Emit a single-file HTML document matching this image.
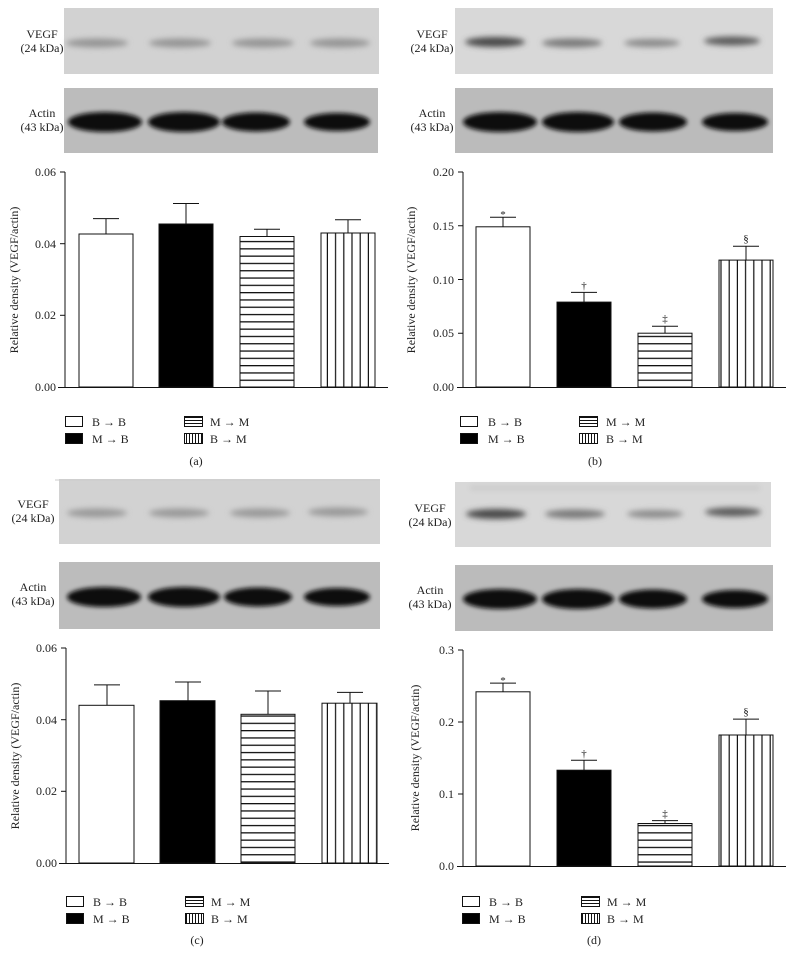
<!DOCTYPE html>
<html><head><meta charset="utf-8"><style>
html,body{margin:0;padding:0;background:#fff}
svg text{font-family:"Liberation Serif",serif;fill:#222}
</style></head><body>
<svg width="795" height="966" viewBox="0 0 795 966" xmlns="http://www.w3.org/2000/svg">
<defs>
<filter id="b1" x="-30%" y="-150%" width="160%" height="400%"><feGaussianBlur stdDeviation="3"/></filter>
<filter id="b2" x="-30%" y="-100%" width="160%" height="300%"><feGaussianBlur stdDeviation="2.2"/></filter>
<pattern id="hz" width="10" height="7.3" patternUnits="userSpaceOnUse"><rect width="10" height="7.3" fill="#fff"/><rect y="0" width="10" height="1.3" fill="#111"/></pattern>
<pattern id="vt" width="8.2" height="10" patternUnits="userSpaceOnUse"><rect width="8.2" height="10" fill="#fff"/><rect x="7" width="1.2" height="10" fill="#111"/></pattern>
<pattern id="hzs" width="10" height="3" patternUnits="userSpaceOnUse"><rect width="10" height="3" fill="#fff"/><rect width="10" height="1" fill="#111"/></pattern>
<pattern id="vts" width="3" height="10" patternUnits="userSpaceOnUse"><rect width="3" height="10" fill="#fff"/><rect width="1" height="10" fill="#111"/></pattern>
</defs>

<!-- ===== Panel A blots ===== -->
<rect x="64" y="8" width="315" height="66" fill="#d2d2d2"/>
<g filter="url(#b1)" fill="#959595">
<ellipse cx="97" cy="43" rx="31" ry="4.5"/><ellipse cx="180" cy="43" rx="31" ry="4.5"/><ellipse cx="263" cy="43" rx="31" ry="4.5"/><ellipse cx="340" cy="43" rx="30" ry="4.5"/>
</g>
<rect x="64" y="88" width="314" height="65" fill="#bcbcbc"/>
<g filter="url(#b2)" fill="#0a0a0a">
<ellipse cx="105" cy="122" rx="37" ry="10"/><ellipse cx="184" cy="122" rx="36" ry="10"/><ellipse cx="256" cy="122" rx="34" ry="9.5"/><ellipse cx="337" cy="122" rx="33" ry="9"/>
</g>
<text x="42" y="38" font-size="12" text-anchor="middle">VEGF</text>
<text x="42" y="52" font-size="12" text-anchor="middle">(24 kDa)</text>
<text x="42" y="117" font-size="12" text-anchor="middle">Actin</text>
<text x="42" y="131" font-size="12" text-anchor="middle">(43 kDa)</text>

<!-- ===== Panel B blots ===== -->
<rect x="455" y="8" width="318" height="66" fill="#d8d8d8"/>
<g filter="url(#b1)">
<ellipse cx="495" cy="42" rx="30" ry="5" fill="#4a4a4a"/><ellipse cx="572" cy="43" rx="30" ry="4.5" fill="#7a7a7a"/><ellipse cx="652" cy="43" rx="28" ry="4" fill="#8a8a8a"/><ellipse cx="732" cy="41" rx="28" ry="4.5" fill="#5c5c5c"/>
</g>
<rect x="455" y="88" width="318" height="65" fill="#bbbbbb"/>
<g filter="url(#b2)" fill="#0a0a0a">
<ellipse cx="500" cy="122" rx="37" ry="10"/><ellipse cx="578" cy="122" rx="36" ry="10"/><ellipse cx="653" cy="122" rx="34" ry="9.5"/><ellipse cx="735" cy="122" rx="33" ry="9"/>
</g>
<text x="432" y="38" font-size="12" text-anchor="middle">VEGF</text>
<text x="432" y="52" font-size="12" text-anchor="middle">(24 kDa)</text>
<text x="432" y="117" font-size="12" text-anchor="middle">Actin</text>
<text x="432" y="131" font-size="12" text-anchor="middle">(43 kDa)</text>

<!-- ===== Panel C blots ===== -->
<rect x="59" y="479" width="321" height="65" fill="#d2d2d2"/>
<g filter="url(#b1)" fill="#9a9a9a">
<ellipse cx="97" cy="513" rx="30" ry="4.5"/><ellipse cx="179" cy="513" rx="30" ry="4.5"/><ellipse cx="260" cy="513" rx="30" ry="4.5"/><ellipse cx="338" cy="512" rx="30" ry="4.5"/>
</g>
<rect x="59" y="562" width="321" height="67" fill="#bcbcbc"/>
<g filter="url(#b2)" fill="#0a0a0a">
<ellipse cx="104" cy="597" rx="37" ry="10"/><ellipse cx="184" cy="597" rx="36" ry="10"/><ellipse cx="258" cy="597" rx="34" ry="9.5"/><ellipse cx="337" cy="597" rx="33" ry="9"/>
</g>
<text x="33" y="508" font-size="12" text-anchor="middle">VEGF</text>
<text x="33" y="522" font-size="12" text-anchor="middle">(24 kDa)</text>
<text x="33" y="591" font-size="12" text-anchor="middle">Actin</text>
<text x="33" y="605" font-size="12" text-anchor="middle">(43 kDa)</text>

<!-- ===== Panel D blots ===== -->
<rect x="455" y="482" width="316" height="65" fill="#d8d8d8"/>
<g filter="url(#b1)">
<ellipse cx="496" cy="514" rx="30" ry="5" fill="#4a4a4a"/><ellipse cx="575" cy="514" rx="30" ry="4.5" fill="#7a7a7a"/><ellipse cx="655" cy="514" rx="28" ry="4" fill="#8c8c8c"/><ellipse cx="733" cy="512" rx="28" ry="4.5" fill="#5c5c5c"/>
</g>
<g filter="url(#b1)" fill="#c8c8c8"><rect x="470" y="486" width="290" height="4"/></g>
<rect x="455" y="565" width="318" height="66" fill="#bbbbbb"/>
<g filter="url(#b2)" fill="#0a0a0a">
<ellipse cx="500" cy="599" rx="37" ry="10"/><ellipse cx="578" cy="599" rx="36" ry="10"/><ellipse cx="653" cy="599" rx="34" ry="9.5"/><ellipse cx="735" cy="599" rx="33" ry="9"/>
</g>
<text x="430" y="512" font-size="12" text-anchor="middle">VEGF</text>
<text x="430" y="526" font-size="12" text-anchor="middle">(24 kDa)</text>
<text x="430" y="594" font-size="12" text-anchor="middle">Actin</text>
<text x="430" y="608" font-size="12" text-anchor="middle">(43 kDa)</text>

<g stroke="#111" stroke-width="1" fill="none">
<!-- ===== Chart A ===== -->
<line x1="65" y1="172" x2="65" y2="387"/><line x1="58" y1="387.5" x2="388" y2="387.5"/>
<line x1="60" y1="172" x2="65" y2="172"/><line x1="60" y1="243.7" x2="65" y2="243.7"/><line x1="60" y1="315.3" x2="65" y2="315.3"/>
<rect x="79" y="234" width="54" height="153" fill="#fff"/>
<rect x="159" y="224" width="54" height="163" fill="#000"/>
<rect x="240" y="236.5" width="54" height="150.5" fill="url(#hz)"/>
<rect x="321" y="233" width="54" height="154" fill="url(#vt)"/>
<path d="M106 234V218.6M93 218.6H119M186 224V203.5M173 203.5H199M267 236.5V229.3M254 229.3H280M348 233V219.7M335 219.7H361"/>

<!-- ===== Chart B ===== -->
<line x1="463" y1="172" x2="463" y2="387"/><line x1="457" y1="387.5" x2="786" y2="387.5"/>
<line x1="458" y1="172" x2="463" y2="172"/><line x1="458" y1="225.75" x2="463" y2="225.75"/><line x1="458" y1="279.5" x2="463" y2="279.5"/><line x1="458" y1="333.25" x2="463" y2="333.25"/>
<rect x="476" y="226.8" width="54" height="160.2" fill="#fff"/>
<rect x="557" y="302.1" width="54" height="84.9" fill="#000"/>
<rect x="638" y="333.2" width="54" height="53.8" fill="url(#hz)"/>
<rect x="719" y="260.1" width="54" height="126.9" fill="url(#vt)"/>
<path d="M503 226.8V217.2M490 217.2H516M584 302.1V292.4M571 292.4H597M665 333.2V326.3M652 326.3H678M746 260.1V246.2M733 246.2H759"/>

<!-- ===== Chart C ===== -->
<line x1="66" y1="648" x2="66" y2="863"/><line x1="59" y1="863.5" x2="389" y2="863.5"/>
<line x1="61" y1="648" x2="66" y2="648"/><line x1="61" y1="719.7" x2="66" y2="719.7"/><line x1="61" y1="791.3" x2="66" y2="791.3"/>
<rect x="79" y="705.3" width="55" height="157.7" fill="#fff"/>
<rect x="160" y="700.7" width="55" height="162.3" fill="#000"/>
<rect x="241" y="714.3" width="54" height="148.7" fill="url(#hz)"/>
<rect x="322" y="703.2" width="55" height="159.8" fill="url(#vt)"/>
<path d="M107 705.3V684.9M94 684.9H120M188 700.7V682M175 682H201M268 714.3V691M255 691H281M350 703.2V692.4M337 692.4H363"/>

<!-- ===== Chart D ===== -->
<line x1="463" y1="650" x2="463" y2="866"/><line x1="457" y1="866.5" x2="786" y2="866.5"/>
<line x1="458" y1="650" x2="463" y2="650"/><line x1="458" y1="722" x2="463" y2="722"/><line x1="458" y1="794" x2="463" y2="794"/>
<rect x="476" y="691.8" width="54" height="174.2" fill="#fff"/>
<rect x="557" y="770.2" width="54" height="95.8" fill="#000"/>
<rect x="638" y="823.5" width="54" height="42.5" fill="url(#hz)"/>
<rect x="719" y="735" width="54" height="131" fill="url(#vt)"/>
<path d="M503 691.8V683.1M490 683.1H516M584 770.2V760.2M571 760.2H597M665 823.5V820.6M652 820.6H678M746 735V719.1M733 719.1H759"/>

<!-- legends -->
<rect x="65.5" y="416.5" width="17" height="10" fill="#fff"/><rect x="65.5" y="433.5" width="17" height="10" fill="#000"/>
<rect x="184.5" y="416.5" width="18" height="10" fill="url(#hzs)"/><rect x="184.5" y="433.5" width="18" height="10" fill="url(#vts)"/>
<rect x="460.5" y="416.5" width="17" height="10" fill="#fff"/><rect x="460.5" y="433.5" width="17" height="10" fill="#000"/>
<rect x="579.5" y="416.5" width="18" height="10" fill="url(#hzs)"/><rect x="579.5" y="433.5" width="18" height="10" fill="url(#vts)"/>
<rect x="66.5" y="896.5" width="17" height="10" fill="#fff"/><rect x="66.5" y="913.5" width="17" height="10" fill="#000"/>
<rect x="185.5" y="896.5" width="18" height="10" fill="url(#hzs)"/><rect x="185.5" y="913.5" width="18" height="10" fill="url(#vts)"/>
<rect x="462.5" y="896.5" width="17" height="10" fill="#fff"/><rect x="462.5" y="913.5" width="17" height="10" fill="#000"/>
<rect x="581.5" y="896.5" width="18" height="10" fill="url(#hzs)"/><rect x="581.5" y="913.5" width="18" height="10" fill="url(#vts)"/>
</g>
<line x1="55" y1="480" x2="380" y2="480" stroke="#ccc" stroke-width="1"/>

<!-- tick labels -->
<g font-size="12" text-anchor="end">
<text x="56" y="176">0.06</text><text x="56" y="248">0.04</text><text x="56" y="319">0.02</text><text x="56" y="391">0.00</text>
<text x="454" y="176">0.20</text><text x="454" y="230">0.15</text><text x="454" y="284">0.10</text><text x="454" y="337">0.05</text><text x="454" y="391">0.00</text>
<text x="57" y="652">0.06</text><text x="57" y="724">0.04</text><text x="57" y="795">0.02</text><text x="57" y="867">0.00</text>
<text x="454" y="654">0.3</text><text x="454" y="726">0.2</text><text x="454" y="798">0.1</text><text x="454" y="870">0.0</text>
</g>
<g font-size="12" text-anchor="middle">
<text transform="translate(18,280) rotate(-90)">Relative density (VEGF/actin)</text>
<text transform="translate(415,280) rotate(-90)">Relative density (VEGF/actin)</text>
<text transform="translate(19,756) rotate(-90)">Relative density (VEGF/actin)</text>
<text transform="translate(419,758) rotate(-90)">Relative density (VEGF/actin)</text>
</g>
<!-- significance -->
<g font-size="11" text-anchor="middle">
<text x="503" y="218">*</text><text x="584" y="289">†</text><text x="665" y="322">‡</text><text x="746" y="242">§</text>
<text x="503" y="684">*</text><text x="584" y="757">†</text><text x="665" y="817">‡</text><text x="746" y="715">§</text>
</g>
<!-- legend text -->
<g font-size="12">
<text x="92" y="426">B → B</text><text x="92" y="443">M → B</text><text x="210" y="426">M → M</text><text x="210" y="443">B → M</text>
<text x="488" y="426">B → B</text><text x="488" y="443">M → B</text><text x="606" y="426">M → M</text><text x="606" y="443">B → M</text>
<text x="93" y="906">B → B</text><text x="93" y="923">M → B</text><text x="211" y="906">M → M</text><text x="211" y="923">B → M</text>
<text x="489" y="906">B → B</text><text x="489" y="923">M → B</text><text x="607" y="906">M → M</text><text x="607" y="923">B → M</text>
</g>
<g font-size="12" text-anchor="middle">
<text x="196" y="465">(a)</text><text x="595" y="465">(b)</text><text x="197" y="944">(c)</text><text x="594" y="944">(d)</text>
</g>
</svg>
</body></html>
